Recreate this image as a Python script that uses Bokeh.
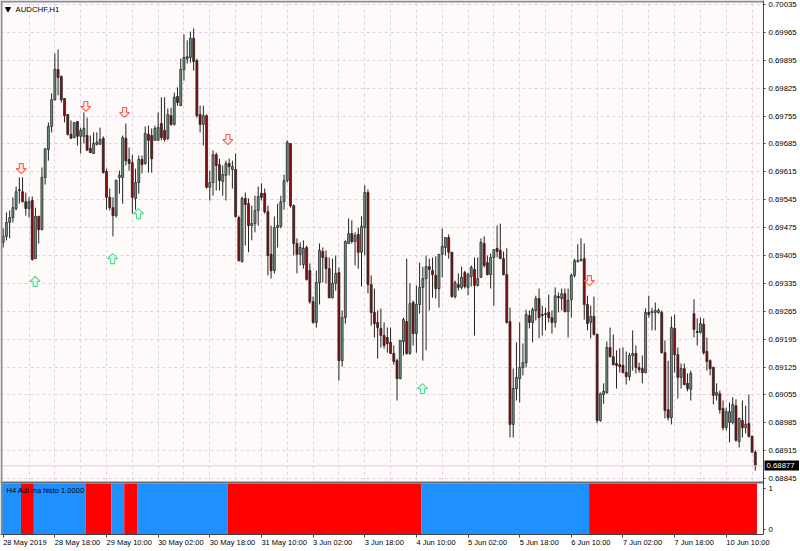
import numpy as np
from bokeh.plotting import figure
from bokeh.models import Range1d, FixedTicker, Span, Label, LinearAxis
from bokeh.embed import file_html
from bokeh.resources import INLINE

# prices in units of 0.00001
highs = [69473,69513,69518,69551,69578,69601,69601,69563,69551,69553,
 69525,69505,69626,69673,69739,69812,69912,69922,69857,69799,
 69759,69744,69739,69741,69726,69764,69751,69706,69714,69714,
 69726,69704,69623,69573,69551,69596,69618,69706,69736,69676,
 69658,69623,69656,69656,69729,69731,69724,69731,69764,69802,
 69802,69774,69776,69814,69827,69899,69960,69945,69967,69975,
 69899,69781,69781,69759,69618,69669,69663,69648,69631,69643,
 69648,69643,69661,69505,69553,69563,69548,69530,69555,69578,
 69586,69573,69530,69480,69503,69535,69555,69608,69694,69686,
 69533,69448,69438,69443,69430,69385,69302,69367,69435,69425,
 69418,69400,69397,69405,69375,69267,69443,69498,69493,69463,
 69475,69503,69581,69571,69355,69322,69267,69272,69237,69224,
 69224,69179,69146,69192,69249,69397,69335,69292,69330,69387,
 69377,69405,69397,69400,69403,69408,69473,69450,69458,69413,
 69342,69360,69377,69367,69362,69380,69400,69400,69448,69453,
 69405,69410,69420,69480,69485,69415,69423,69274,69121,69187,
 69237,69184,69269,69267,69274,69304,69322,69279,69274,69307,
 69267,69325,69312,69322,69322,69322,69360,69397,69433,69448,
 69435,69304,69279,69302,69209,69061,69084,69189,69224,69207,
 69167,69172,69174,69164,69161,69217,69179,69136,69154,69272,
 69304,69274,69287,69272,69267,69192,69141,69252,69257,69174,
 69134,69134,69109,69116,69295,69247,69249,69247,69199,69144,
 69126,69084,69066,69041,69023,69036,69049,69044,68998,69041,
 69028,69056,68953,68916]
opens = [69438,69453,69488,69500,69523,69570,69565,69540,69523,69543,
 69397,69503,69470,69601,69671,69729,69796,69872,69854,69799,
 69759,69709,69701,69741,69704,69704,69706,69674,69661,69684,
 69684,69699,69616,69551,69525,69505,69601,69601,69699,69646,
 69638,69548,69588,69646,69636,69709,69706,69694,69694,69736,
 69719,69699,69756,69734,69804,69781,69872,69899,69902,69950,
 69894,69759,69734,69756,69576,69588,69658,69633,69591,69606,
 69636,69621,69621,69500,69390,69548,69535,69480,69485,69518,
 69561,69561,69515,69408,69367,69475,69478,69540,69593,69686,
 69530,69435,69408,69382,69425,69367,69289,69237,69337,69415,
 69400,69372,69299,69335,69362,69141,69249,69435,69460,69440,
 69458,69413,69475,69563,69332,69262,69237,69222,69204,69199,
 69187,69159,69141,69096,69189,69239,69159,69287,69209,69282,
 69325,69347,69377,69367,69355,69322,69408,69425,69450,69413,
 69302,69332,69325,69362,69325,69352,69370,69330,69350,69435,
 69387,69357,69400,69423,69418,69397,69357,69239,68981,69071,
 69096,69124,69136,69254,69237,69267,69297,69257,69259,69262,
 69249,69237,69302,69297,69309,69264,69294,69355,69390,69392,
 69397,69282,69237,69252,69207,68991,69056,69061,69174,69151,
 69134,69131,69129,69111,69101,69154,69159,69124,69121,69111,
 69262,69262,69262,69262,69262,69161,69018,68998,69222,69156,
 69099,69121,69084,69069,69259,69214,69212,69232,69164,69141,
 69124,69054,69058,69021,68973,68986,68986,69028,68938,68991,
 68973,68983,68951,68911]
closes = [69453,69488,69500,69525,69565,69568,69540,69523,69540,69395,
 69503,69470,69601,69673,69729,69796,69872,69852,69796,69756,
 69709,69699,69739,69704,69719,69724,69669,69663,69686,69689,
 69696,69613,69551,69525,69505,69593,69606,69701,69643,69636,
 69551,69588,69646,69633,69711,69694,69648,69724,69726,69701,
 69696,69759,69734,69802,69789,69872,69902,69904,69950,69892,
 69756,69734,69756,69576,69588,69658,69631,69593,69608,69636,
 69628,69628,69503,69392,69548,69533,69480,69485,69518,69553,
 69551,69515,69405,69367,69475,69480,69540,69593,69689,69530,
 69435,69408,69425,69423,69345,69289,69237,69337,69418,69400,
 69372,69299,69335,69360,69141,69249,69440,69460,69440,69455,
 69413,69478,69563,69332,69262,69234,69224,69204,69179,69184,
 69159,69139,69096,69192,69244,69159,69284,69209,69282,69325,
 69347,69377,69370,69357,69322,69408,69428,69450,69413,69302,
 69337,69325,69350,69327,69357,69375,69330,69347,69438,69380,
 69357,69400,69420,69415,69397,69357,69237,68981,69071,69099,
 69124,69136,69257,69237,69269,69297,69249,69254,69257,69249,
 69237,69304,69299,69309,69264,69292,69355,69392,69392,69395,
 69282,69234,69252,69207,68991,69058,69064,69174,69151,69131,
 69129,69126,69111,69101,69154,69159,69124,69119,69111,69262,
 69257,69264,69267,69267,69161,69016,68998,69224,69156,69099,
 69121,69081,69071,69109,69219,69212,69234,69161,69139,69121,
 69054,69061,69018,68973,69013,69013,69031,68941,68996,68973,
 68981,68951,68911,68877]
lows = [69425,69443,69448,69488,69518,69535,69538,69505,69500,69392,
 69397,69435,69468,69583,69643,69714,69794,69807,69789,69739,
 69706,69699,69699,69681,69661,69686,69669,69663,69661,69681,
 69684,69611,69520,69518,69453,69500,69560,69535,69631,69618,
 69510,69520,69560,69611,69633,69613,69613,69694,69694,69694,
 69691,69694,69731,69731,69781,69781,69844,69887,69889,69869,
 69751,69714,69681,69573,69543,69555,69568,69568,69555,69543,
 69606,69573,69500,69390,69387,69430,69413,69443,69463,69480,
 69543,69510,69355,69347,69360,69425,69473,69520,69588,69525,
 69405,69360,69380,69372,69342,69284,69234,69224,69282,69337,
 69335,69297,69297,69317,69091,69126,69234,69435,69435,69380,
 69372,69327,69405,69310,69229,69199,69146,69174,69171,69161,
 69159,69131,69041,69094,69154,69156,69156,69179,69161,69259,
 69141,69167,69267,69299,69297,69274,69350,69405,69397,69299,
 69297,69317,69320,69322,69305,69327,69204,69327,69350,69375,
 69355,69322,69279,69400,69397,69355,69234,68948,68948,69041,
 69036,69104,69124,69222,69187,69242,69197,69204,69217,69237,
 69209,69224,69262,69267,69262,69199,69249,69350,69387,69390,
 69244,69217,69197,69204,68984,68988,69033,69058,69149,69129,
 69071,69111,69109,69081,69091,69116,69109,69111,69084,69109,
 69249,69217,69217,69259,69159,68996,68991,68981,69111,69046,
 69071,69079,69064,69041,69199,69179,69209,69156,69116,69104,
 69031,69041,69008,68966,68966,68936,68981,68938,68923,68948,
 68958,68948,68911,68865]

down_arrow_bars = [6, 26, 38, 70, 182]
down_arrow_prices = [69623, 69779, 69764, 69696, 69342]
up_arrow_bars = [10, 34, 42, 130]
up_arrow_prices = [69340, 69397, 69510, 69071]

state_colors = ["#1e90ff", "#ff0000", "#1e90ff", "#ff0000", "#1e90ff", "#ff0000", "#1e90ff", "#ff0000", "#1e90ff", "#ff0000"]
state_bars = [6, 4, 16, 8, 4, 4, 28, 60, 52, 52]

price_ticks = [70035, 69965, 69895, 69825, 69755, 69685, 69615, 69545, 69475, 69405,
               69335, 69265, 69195, 69125, 69055, 68985, 68915, 68845]
date_labels = ["28 May 2019", "28 May 18:00", "29 May 10:00", "30 May 02:00", "30 May 18:00",
               "31 May 10:00", "3 Jun 02:00", "3 Jun 18:00", "4 Jun 10:00", "5 Jun 02:00",
               "5 Jun 18:00", "6 Jun 10:00", "7 Jun 02:00", "7 Jun 18:00", "10 Jun 10:00"]
last_price = 68877

FONT = "Liberation Sans"
TXT = "7.8px"
TXT_DATE = 7.5
BG = "#fffafa"
GRID = "#e6cfe6"
PX_PER_BAR = 3.228
X0 = 2.7
PT_PER_PX = 2.51e-5
Y_TOP = 0.70045
FRAME_H = 534

o, h, l, c = [np.array(a) / 1e5 for a in (opens, highs, lows, closes)]
idx = np.arange(len(o))
bull = c >= o

px_x = lambda px: (px - X0) / PX_PER_BAR
px_y = lambda px: Y_TOP - px * PT_PER_PX

p = figure(width=800, height=551, frame_width=763, frame_height=FRAME_H,
           x_range=Range1d(px_x(0), px_x(763)), y_range=Range1d(px_y(FRAME_H), Y_TOP),
           y_axis_location="right", x_axis_location="below",
           toolbar_location=None, output_backend="svg", background_fill_color=BG,
           border_fill_color="#ffffff", min_border=0, outline_line_color=None,
           styles={"position": "absolute", "left": "0px", "top": "0px"})

# lower pane scale: its 0 and 1 share the right-hand axis with the prices
hist_ticks = {px_y(529): "0", px_y(488): "1"}
labels = {t / 1e5: f"{t / 1e5:.5f}" for t in price_ticks}
labels.update(hist_ticks)
p.yaxis.ticker = FixedTicker(ticks=sorted(labels))
p.yaxis.major_label_overrides = labels
p.yaxis.major_label_text_font = FONT
p.yaxis.major_label_text_font_size = TXT
p.yaxis.major_label_text_color = "#000000"
p.yaxis.major_label_standoff = 3
p.yaxis.major_tick_in = 0
p.yaxis.major_tick_out = 2
p.yaxis.minor_tick_line_color = None
p.yaxis.axis_line_color = "#444444"
p.yaxis.major_tick_line_color = "#444444"

# current-price tag: a second axis whose only tick is a thick black bar
last = last_price / 1e5
price_axis = LinearAxis(ticker=FixedTicker(ticks=[last]),
                        major_label_overrides={last: f"{last:.5f}"},
                        major_label_text_font=FONT, major_label_text_font_size=TXT,
                        major_label_text_color="#ffffff", major_label_standoff=-33,
                        major_tick_in=35, major_tick_out=0, major_tick_line_width=10,
                        major_tick_line_color="#000000", minor_tick_line_color=None,
                        axis_line_color=None)
p.add_layout(price_axis, "right")

p.xgrid.ticker = FixedTicker(ticks=list(range(8, 234, 8)))
p.ygrid.ticker = FixedTicker(ticks=[t / 1e5 for t in price_ticks])
for g in (p.xgrid, p.ygrid):
    g.grid_line_color = GRID
    g.grid_line_dash = "3 3"
    g.grid_line_width = 1

p.add_layout(Span(location=last, dimension="width", line_color="#dccbdc", line_width=1))

p.segment(idx, l, idx, h, line_color="#222222", line_width=1)
p.vbar(idx[bull], 0.62, o[bull], c[bull], fill_color="#6d9480", line_color="#1a1a1a", line_width=0.7)
p.vbar(idx[~bull], 0.62, c[~bull], o[~bull], fill_color="#8a0f0f", line_color="#1a1a1a", line_width=0.7)

# hollow block arrows, sized in screen pixels around their bar and price
shaft = [(-2, -5), (2, -5), (2, 0), (5, 0), (0, 5), (-5, 0), (-2, 0)]
def arrow_patches(bars, prices, flip, dx):
    xs, ys = [], []
    for b, v in zip(bars, prices):
        xs.append([b + (sx + dx) / PX_PER_BAR for sx, _ in shaft])
        ys.append([v / 1e5 - flip * sy * PT_PER_PX for _, sy in shaft])
    return xs, ys
xs, ys = arrow_patches(down_arrow_bars, down_arrow_prices, 1, -1.3)
p.patches(xs, ys, fill_color="#fff4f0", line_color="#ff5a50", line_width=1.1)
xs, ys = arrow_patches(up_arrow_bars, up_arrow_prices, -1, -0.3)
p.patches(xs, ys, fill_color="#f4fff4", line_color="#45e08a", line_width=1.1)

# lower pane
edges = np.concatenate([[0], np.cumsum(state_bars)]) - 0.5
p.quad(left=edges[:-1], right=edges[1:], bottom=px_y(FRAME_H), top=px_y(483), fill_color=state_colors, line_color=None)
p.add_layout(Span(location=px_y(482), dimension="width", line_color="#6e6e6e", line_width=2))

# chart frame edge
p.add_layout(Span(location=px_x(1), dimension="height", line_color="#8c8c8c", line_width=2))
p.add_layout(Span(location=px_y(1), dimension="width", line_color="#8c8c8c", line_width=2))

p.add_layout(Label(x=px_x(15), y=px_y(8.5), text="AUDCHF,H1", text_font=FONT, text_font_size=TXT,
                   text_color="#000000", text_baseline="middle", text_align="left"))
p.scatter([px_x(7.5)], [px_y(8.5)], marker="inverted_triangle", size=5, color="#000000")
p.add_layout(Label(x=px_x(6), y=px_y(490), text="H4 Adl ma histo 1.0000", text_font=FONT, text_font_size=f"{TXT_DATE}px",
                   text_color="#000000", text_baseline="middle", text_align="left"))

# dates: one axis with tick marks, one below it with labels centred on their text
date_ticks = [16 * i for i in range(len(date_labels))]
p.xaxis.ticker = FixedTicker(ticks=date_ticks)
p.xaxis.major_label_text_font_size = "0px"
p.xaxis.major_label_overrides = {t: "" for t in date_ticks}
p.xaxis.major_label_standoff = 0
p.xaxis.major_tick_in = 0
p.xaxis.major_tick_out = 3
p.xaxis.minor_tick_line_color = None
p.xaxis.axis_line_color = "#444444"
p.xaxis.major_tick_line_color = "#444444"

EM = {"M": .833, "a": .556, "y": .5, "J": .5, "u": .556, "n": .556, " ": .278, ":": .278}
def text_width(s):
    return sum(EM.get(ch, .556) for ch in s) * TXT_DATE
label_pos = [t + (text_width(s) / 2) / PX_PER_BAR for t, s in zip(date_ticks, date_labels)]
date_axis = LinearAxis(ticker=FixedTicker(ticks=label_pos),
                       major_label_overrides=dict(zip(label_pos, date_labels)),
                       major_label_text_font=FONT, major_label_text_font_size=f"{TXT_DATE}px",
                       major_label_text_color="#000000", major_label_standoff=-6,
                       major_tick_line_color=None, minor_tick_line_color=None, axis_line_color=None)
p.add_layout(date_axis, "below")

open("out.html", "w").write(file_html(p, INLINE))
